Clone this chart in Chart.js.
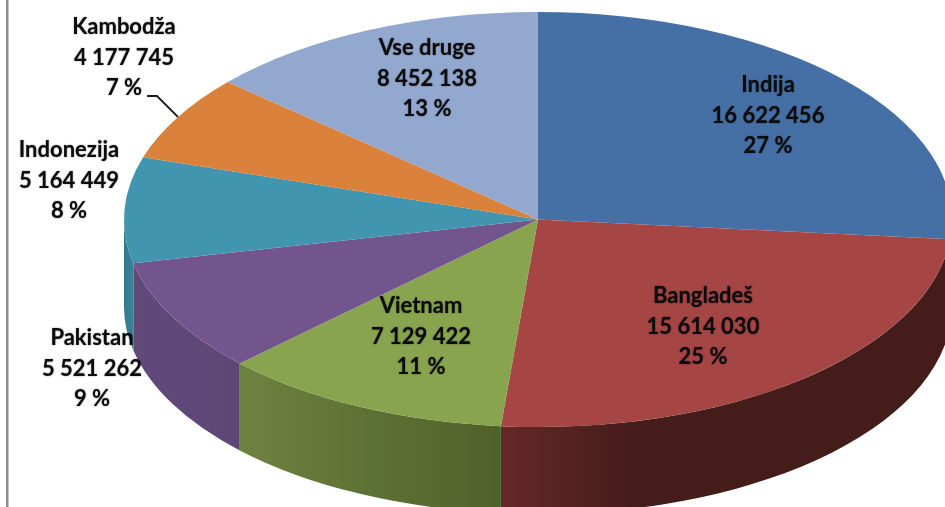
<!DOCTYPE html>
<html><head><meta charset="utf-8">
<script src="https://cdn.jsdelivr.net/npm/chart.js@4"></script>
<style>html,body{margin:0;padding:0;background:#fff;overflow:hidden}canvas{display:block}</style>
</head><body><canvas id="c" width="945" height="507"></canvas>
<script>
const categories = ['Indija','Bangladeš','Vietnam','Pakistan','Indonezija','Kambodža','Vse druge'];
const seriesValues = [16622456,15614030,7129422,5521262,5164449,4177745,8452138];
const percentLabels = ['27 %','25 %','11 %','9 %','8 %','7 %','13 %'];
const topColors = ['#4570A5','#A64644','#88A44F','#73558E','#4195AE','#DA823B','#93A8CF'];

const geom = {cx:538, cy:219.5, rx:414, ry:207.5, depth:87};
const wallStops = [
  [[124,'#2f5079'],[951,'#2f5079']],
  [[501,'#652827'],[640,'#441C1A'],[951,'#441C1A']],
  [[240,'#6E8240'],[501,'#4F6129']],
  [[133,'#604A7A'],[240,'#5E4775']],
  [[124,'#34788E'],[133,'#3A8298']],
  [[124,'#9a5c28'],[951,'#9a5c28']],
  [[124,'#6b7a96'],[951,'#6b7a96']]
];
const labelAnchors = [[768,85],[703,296],[421,306],[92,338],[69,150],[124,27],[427,48]];
const leader = [[147,96],[157,96],[178,117]];
const fmt = v => String(v).replace(/\B(?=(\d{3})+$)/g,' ');

const pie3d = {
  id:'pie3d',
  beforeDraw(chart){
    const ctx = chart.ctx;
    ctx.save();
    ctx.fillStyle='#8C8C8C';
    ctx.fillRect(6,0,2.5,507);
    ctx.restore();
  },
  beforeDatasetsDraw(chart){
    const ctx = chart.ctx, g = geom;
    const arcs = chart.getDatasetMeta(0).data;
    arcs.forEach((el,i)=>{
      const p = el.getProps(['startAngle','endAngle']);
      const TAU = Math.PI*2;
      let a = ((p.startAngle%TAU)+TAU)%TAU;
      let b = a + (p.endAngle-p.startAngle);
      [[0,Math.PI],[TAU,TAU+Math.PI]].forEach(([lo,hi])=>{
        const s = Math.max(a,lo), e = Math.min(b,hi);
        if (e<=s) return;
        const x0 = wallStops[i][0][0], x1 = wallStops[i][wallStops[i].length-1][0];
        const gr = ctx.createLinearGradient(x0,0,x1,0);
        wallStops[i].forEach(st=>gr.addColorStop((st[0]-x0)/(x1-x0),st[1]));
        ctx.save();
        ctx.fillStyle = gr;
        ctx.beginPath();
        ctx.ellipse(g.cx,g.cy,g.rx,g.ry,0,s,e,false);
        ctx.ellipse(g.cx,g.cy+g.depth,g.rx,g.ry,0,e,s,true);
        ctx.closePath();
        ctx.fill();
        ctx.restore();
      });
    });
    const first = arcs[0];
    const sx = g.rx/first.outerRadius, sy = g.ry/first.outerRadius;
    ctx.save();
    ctx.translate(g.cx,g.cy);
    ctx.scale(sx,sy);
    ctx.translate(-first.x,-first.y);
  },
  afterDatasetsDraw(chart){
    chart.ctx.restore();
  },
  afterDraw(chart){
    const ctx = chart.ctx;
    ctx.save();
    ctx.strokeStyle='#1c1c1c';
    ctx.lineWidth=1.8;
    ctx.beginPath();
    leader.forEach((pt,i)=> i?ctx.lineTo(pt[0],pt[1]):ctx.moveTo(pt[0],pt[1]));
    ctx.stroke();
    ctx.fillStyle='#0c0c0c';
    ctx.font='bold 22px Lato';
    ctx.textAlign='center';
    ctx.textBaseline='middle';
    ctx.shadowColor='rgba(0,0,0,0.55)';
    ctx.shadowBlur=1.5;
    categories.forEach((name,i)=>{
      const [x,y]=labelAnchors[i];
      ctx.fillText(name,x,y);
      ctx.fillText(fmt(seriesValues[i]),x,y+30.5);
      ctx.fillText(percentLabels[i],x,y+61);
    });
    ctx.restore();
  }
};

new Chart(document.getElementById('c'),{
  type:'pie',
  data:{labels:categories,datasets:[{data:seriesValues,backgroundColor:topColors,borderWidth:0,clip:false}]},
  options:{
    responsive:false,animation:false,
    rotation:0,
    plugins:{legend:{display:false},tooltip:{enabled:false}},
    layout:{padding:0}
  },
  plugins:[pie3d]
});
</script></body></html>
